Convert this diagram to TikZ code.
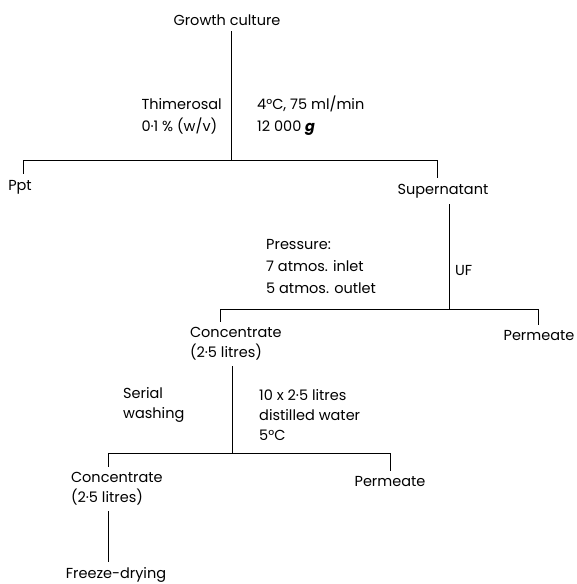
\documentclass[tikz,border=0pt]{standalone}
\usepackage{fontspec}
\setmainfont{Poppins}
\usetikzlibrary{positioning}

\begin{document}
\begin{tikzpicture}[x=1pt, y=-1pt,
    every node/.style={font=\fontsize{14.5}{20}\selectfont, inner sep=0pt},
    stage/.style={outer sep=6pt},
    note/.style={align=left, anchor=west},
    wide/.style={font=\fontsize{14.5}{22}\selectfont},
    branch/.style={line width=0.8pt}
]
\useasboundingbox (0,0) rectangle (576,584);

% Step 1: centrifugation of the growth culture
\node[stage] (growth) at (227,20) {Growth culture};
\node[stage] (ppt) at (20,187) {Ppt};
\node[stage] (super) at (443,191) {Supernatant};
\node[note, wide, align=left, anchor=east] (thim) at (222,116) {Thimerosal\\0·1 \% (w/v)};
\node[note, wide] (spin) at (257,116) {4°C, 75 ml/min\\12 000 \textbf{\textit{g}}};
\coordinate (j1) at (231,160);
\coordinate (b1l) at (23,160);
\coordinate (b1r) at (437,160);
\draw[branch] (growth.south -| j1) -- (j1);
\draw[branch] (b1l) -- (b1r);
\draw[branch] (b1l) -- (b1l |- ppt.north);
\draw[branch] (b1r) -- (b1r |- super.north);

% Step 2: ultrafiltration of the supernatant
\node[note, wide] (press) at (266,267) {Pressure:\\7 atmos. inlet\\5 atmos. outlet};
\node[note] (uf) at (455,270) {UF};
\node[stage, note] (conc1) at (184,344) {Concentrate\\(2·5 litres)};
\node[stage] (perm1) at (539,336) {Permeate};
\coordinate (j2) at (449,309);
\coordinate (b2l) at (220,309);
\coordinate (b2r) at (538,309);
\draw[branch] (super.south -| j2) -- (j2);
\draw[branch] (b2l) -- (b2r);
\draw[branch] (b2l) -- (b2l |- conc1.north);
\draw[branch] (b2r) -- (b2r |- perm1.north);

% Step 3: serial washing of the concentrate
\node[note] (serial) at (123,405) {Serial\\washing};
\node[note] (wash) at (259,415) {10 x 2·5 litres\\distilled water\\5°C};
\node[stage, note] (conc2) at (65,489) {Concentrate\\(2·5 litres)};
\node[stage] (perm2) at (390,482) {Permeate};
\coordinate (j3) at (232,453);
\coordinate (b3l) at (108,453);
\coordinate (b3r) at (390,453);
\draw[branch] (conc1.south -| j3) -- (j3);
\draw[branch] (b3l) -- (b3r);
\draw[branch] (b3l) -- (b3l |- conc2.north);
\draw[branch] (b3r) -- (b3r |- perm2.north);

% Final step
\node[stage] (freeze) at (116,575) {Freeze-drying};
\draw[branch] (conc2.south -| b3l) -- (freeze.north -| b3l);

\end{tikzpicture}
\end{document}
